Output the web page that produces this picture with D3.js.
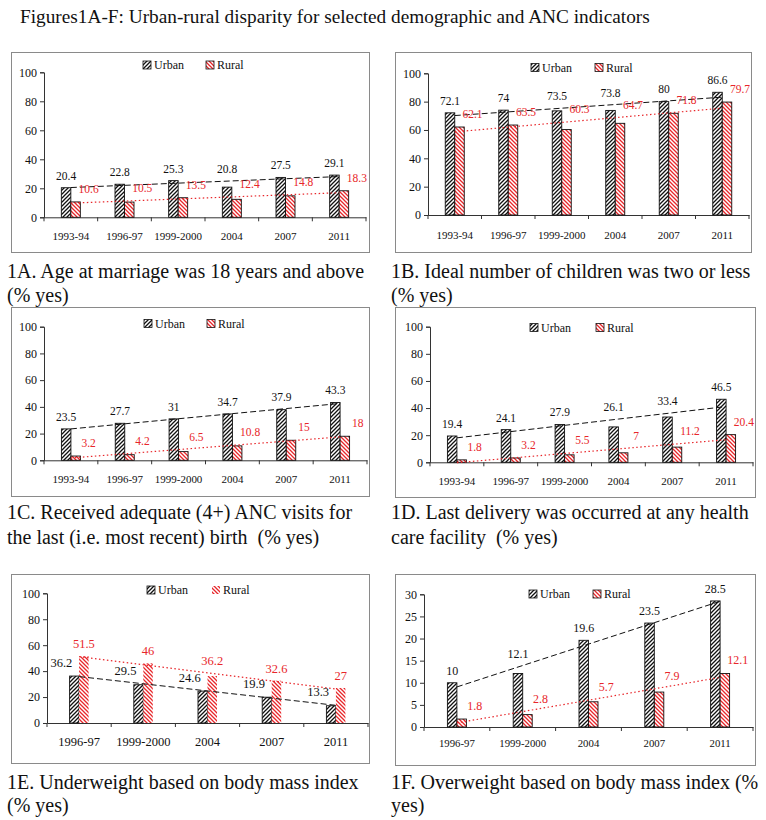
<!DOCTYPE html>
<html><head><meta charset="utf-8">
<script src="https://cdn.jsdelivr.net/npm/d3@7"></script>
<style>
body{margin:0;background:#fff}
text{font-family:"Liberation Serif","Times New Roman",serif}
</style>
</head><body>
<svg id="c" width="766" height="820"></svg>
<script>
// ---------- DATA ----------
const titleText = "Figures1A-F: Urban-rural disparity for selected demographic and ANC indicators";
const seriesNames = ["Urban", "Rural"];
const years6 = ["1993-94", "1996-97", "1999-2000", "2004", "2007", "2011"];
const years5 = ["1996-97", "1999-2000", "2004", "2007", "2011"];
const urbanA = [20.4, 22.8, 25.3, 20.8, 27.5, 29.1];
const ruralA = [10.6, 10.5, 13.5, 12.4, 14.8, 18.3];
const urbanB = [72.1, 74, 73.5, 73.8, 80, 86.6];
const ruralB = [62.1, 63.5, 60.3, 64.7, 71.8, 79.7];
const urbanC = [23.5, 27.7, 31, 34.7, 37.9, 43.3];
const ruralC = [3.2, 4.2, 6.5, 10.8, 15, 18];
const urbanD = [19.4, 24.1, 27.9, 26.1, 33.4, 46.5];
const ruralD = [1.8, 3.2, 5.5, 7, 11.2, 20.4];
const urbanE = [36.2, 29.5, 24.6, 19.9, 13.3];
const ruralE = [51.5, 46, 36.2, 32.6, 27];
const urbanF = [10, 12.1, 19.6, 23.5, 28.5];
const ruralF = [1.8, 2.8, 5.7, 7.9, 12.1];
const ticks100 = [0, 20, 40, 60, 80, 100];
const ticks30 = [0, 5, 10, 15, 20, 25, 30];
const captionA = ["1A. Age at marriage was 18 years and above", "(% yes)"];
const captionB = ["1B. Ideal number of children was two or less", "(% yes)"];
const captionC = ["1C. Received adequate (4+) ANC visits for", "the last (i.e. most recent) birth  (% yes)"];
const captionD = ["1D. Last delivery was occurred at any health", "care facility  (% yes)"];
const captionE = ["1E. Underweight based on body mass index", "(% yes)"];
const captionF = ["1F. Overweight based on body mass index (%", "yes)"];

// ---------- LAYOUT (positions / styles) ----------
const RED = "#e8262a";
const panels = [
  {cats: years6, u: urbanA, r: ruralA, ticks: ticks100, max: 100, cap: captionA,
   box: [11, 52, 369, 252], x0: 44, x1: 366, yT: 72.3, y0: 217.3, legY: 65, legX: [143, 206], labY: 240, labFS: 11, labSY: 1, valFS: 11.5, capY: [278, 302], capX: 7, ruralBorder: true},
  {cats: years6, u: urbanB, r: ruralB, ticks: ticks100, max: 100, cap: captionB,
   box: [395, 52, 751, 252], x0: 428, x1: 749, yT: 73.3, y0: 215, legY: 67.5, legX: [531, 595], labY: 238.5, labFS: 11, labSY: 1, valFS: 11.5, capY: [278, 302], capX: 391, ruralBorder: true},
  {cats: years6, u: urbanC, r: ruralC, ticks: ticks100, max: 100, cap: captionC,
   box: [11, 307, 369, 496], x0: 44, x1: 367, yT: 326.7, y0: 460.3, legY: 323.5, legX: [144, 207], labY: 482.5, labFS: 11, labSY: 0.85, valFS: 11.5, capY: [519, 544], capX: 7, ruralBorder: true},
  {cats: years6, u: urbanD, r: ruralD, ticks: ticks100, max: 100, cap: captionD,
   box: [395, 307, 755, 497], x0: 430, x1: 753, yT: 326.7, y0: 462.3, legY: 327.5, legX: [530, 596], labY: 484.5, labFS: 11, labSY: 0.85, valFS: 11.5, capY: [519, 544], capX: 391, ruralBorder: true},
  {cats: years5, u: urbanE, r: ruralE, ticks: ticks100, max: 100, cap: captionE,
   box: [11, 574, 369, 763], x0: 47, x1: 368, yT: 593.3, y0: 723, legY: 590, legX: [147, 212], labY: 746, labFS: 12.5, labSY: 1, valFS: 12.5, capY: [789, 812], capX: 7, ruralBorder: false},
  {cats: years5, u: urbanF, r: ruralF, ticks: ticks30, max: 30, cap: captionF,
   box: [395, 574, 755, 765], x0: 424, x1: 753, yT: 594.3, y0: 727, legY: 594, legX: [529, 593], labY: 747, labFS: 10.8, labSY: 0.9, valFS: 12, capY: [789, 812], capX: 391, ruralBorder: true}
];

const svg = d3.select("#c");
const defs = svg.append("defs");
const pu = defs.append("pattern").attr("id", "hatchU").attr("patternUnits", "userSpaceOnUse")
  .attr("width", 4).attr("height", 4);
pu.append("rect").attr("width", 4).attr("height", 4).attr("fill", "#fff");
pu.append("path").attr("d", "M-1,1 l2,-2 M0,4 l4,-4 M3,5 l2,-2").attr("stroke", "#111").attr("stroke-width", 1.3);
const pr = defs.append("pattern").attr("id", "hatchR").attr("patternUnits", "userSpaceOnUse")
  .attr("width", 4).attr("height", 4);
pr.append("rect").attr("width", 4).attr("height", 4).attr("fill", "#fff");
pr.append("path").attr("d", "M-1,3 l2,2 M0,0 l4,4 M3,-1 l2,2").attr("stroke", RED).attr("stroke-width", 1.3);

svg.append("text").attr("x", 20).attr("y", 23).attr("font-size", 19.3).attr("fill", "#111").text(titleText);

function regression(vals) {
  const n = vals.length, xs = d3.range(1, n + 1);
  const mx = d3.mean(xs), my = d3.mean(vals);
  const sxy = d3.sum(xs, (x, i) => (x - mx) * (vals[i] - my));
  const sxx = d3.sum(xs, x => (x - mx) * (x - mx));
  const b = sxy / sxx, a = my - b * mx;
  return xs.map(x => a + b * x);
}

const BW = 9.5;

panels.forEach(p => {
  const g = svg.append("g");
  const [bx0, by0, bx1, by1] = p.box;
  g.append("rect").attr("x", bx0 + 0.5).attr("y", by0 + 0.5).attr("width", bx1 - bx0).attr("height", by1 - by0)
    .attr("fill", "none").attr("stroke", "#8a8a8a").attr("stroke-width", 1);

  const x = d3.scaleBand().domain(p.cats).range([p.x0, p.x1]).padding(0);
  const y = d3.scaleLinear().domain([0, p.max]).range([p.y0, p.yT]);
  const cx = c => x(c) + x.bandwidth() / 2;

  // Y axis
  const ya = g.append("g").attr("transform", `translate(${p.x0},0)`)
    .call(d3.axisLeft(y).tickValues(p.ticks).tickSize(4).tickPadding(3).tickFormat(d3.format("d")));
  ya.select(".domain").attr("stroke", "#333");
  ya.selectAll(".tick line").attr("stroke", "#333");
  ya.selectAll("text").attr("font-size", 12).attr("fill", "#111")
    .attr("font-family", '"Liberation Serif","Times New Roman",serif');

  // X axis (ticks between categories)
  const xa = g.append("g").attr("transform", `translate(0,${p.y0})`)
    .call(d3.axisBottom(x).tickSize(0).tickFormat(""));
  xa.select(".domain").attr("stroke", "#333");
  const bounds = p.cats.map(c => x(c)).concat([p.x1]);
  g.selectAll(null).data(bounds).join("line")
    .attr("x1", d => d).attr("x2", d => d).attr("y1", p.y0).attr("y2", p.y0 + 4)
    .attr("stroke", "#333");
  g.selectAll(null).data(p.cats).join("text")
    .attr("transform", d => `translate(${cx(d)},${p.labY}) scale(1,${p.labSY})`)
    .attr("text-anchor", "middle").attr("font-size", p.labFS).attr("fill", "#111").text(d => d);

  // Bars
  const series = [
    {vals: p.u, off: -BW, fill: "url(#hatchU)", border: true},
    {vals: p.r, off: 0, fill: "url(#hatchR)", border: p.ruralBorder}
  ];
  series.forEach(s => {
    g.selectAll(null).data(p.cats).join("rect")
      .attr("x", d => cx(d) + s.off).attr("width", BW)
      .attr("y", (d, i) => y(s.vals[i])).attr("height", (d, i) => p.y0 - y(s.vals[i]))
      .attr("fill", s.fill).attr("stroke", s.border ? "#111" : "none").attr("stroke-width", 0.9);
  });

  // Trend lines
  const tu = regression(p.u), tr = regression(p.r);
  const line = d3.line().x((d, i) => cx(p.cats[i])).y(d => y(d));
  g.append("path").datum(tu).attr("d", line).attr("fill", "none").attr("stroke", "#111")
    .attr("stroke-width", 1).attr("stroke-dasharray", "6,3");
  g.append("path").datum(tr).attr("d", line).attr("fill", "none").attr("stroke", RED)
    .attr("stroke-width", 1.2).attr("stroke-dasharray", "1.5,2.5");

  // Value labels
  const urbanTaller = d3.mean(p.u) > d3.mean(p.r);
  const lab = (vals, trend, isUrban, color) => {
    const tall = isUrban === urbanTaller;
    const barC = isUrban ? -BW / 2 : BW / 2;
    const dx = tall ? 0 : (isUrban ? -13 : 13);
    const up = tall ? 12 : 13;
    g.selectAll(null).data(p.cats).join("text")
      .attr("x", d => cx(d) + barC + dx)
      .attr("y", (d, i) => y(Math.max(vals[i], trend[i])) - up + 4)
      .attr("text-anchor", "middle").attr("font-size", p.valFS).attr("fill", color)
      .text((d, i) => vals[i]);
  };
  lab(p.u, tu, true, "#111");
  lab(p.r, tr, false, RED);

  // Legend
  seriesNames.forEach((name, k) => {
    const lx = p.legX[k];
    g.append("rect").attr("x", lx).attr("y", p.legY - 4).attr("width", 8).attr("height", 8)
      .attr("fill", k === 0 ? "url(#hatchU)" : "url(#hatchR)")
      .attr("stroke", (k === 0 || p.ruralBorder) ? "#111" : "none").attr("stroke-width", 0.8);
    g.append("text").attr("x", lx + 11).attr("y", p.legY + 4).attr("font-size", 12).attr("fill", "#111").text(name);
  });

  // Caption
  p.cap.forEach((t, k) => {
    g.append("text").attr("x", p.capX).attr("y", p.capY[k]).attr("font-size", 20)
      .attr("fill", "#111").style("white-space", "pre").text(t);
  });
});
</script>
</body></html>
